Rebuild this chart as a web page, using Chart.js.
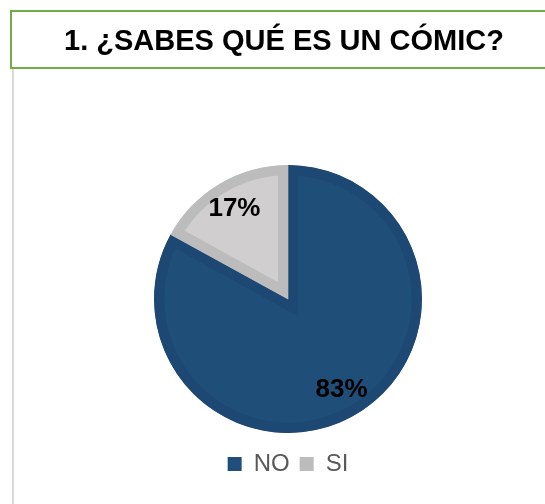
<!DOCTYPE html>
<html><head><meta charset="utf-8">
<script src="https://cdn.jsdelivr.net/npm/chart.js@4/dist/chart.umd.min.js"></script>
<style>
html,body{margin:0;padding:0;background:#fff;width:545px;height:504px;overflow:hidden;font-family:"Liberation Sans",Arial,sans-serif;}
#title{position:absolute;left:10px;top:10px;width:560px;height:55px;border:2px solid #70AD47;box-sizing:content-box;}
#title span{position:absolute;left:0;width:544px;top:0;line-height:57px;text-align:center;font-weight:bold;font-size:29px;color:#000;}
#vline{position:absolute;left:12px;top:69px;width:2px;height:435px;background:#D9D9D9;}
#wrap{position:absolute;left:0;top:0;width:545px;height:504px;}
</style></head>
<body>
<div id="wrap"><canvas id="c" width="545" height="504"></canvas></div>
<div id="title"><span>1. ¿SABES QUÉ ES UN CÓMIC?</span></div>
<div id="vline"></div>
<script>
const categories = ["NO", "SI"];
const values = [83, 17];
const valueLabels = ["83%", "17%"];
const fillColors = ["#1F4E79", "#D0CECE"];
const borderColors = ["#1C4873", "#BDBCBC"];

const labelPlugin = {
  id: 'sliceLabels',
  afterDatasetsDraw(chart) {
    const ctx = chart.ctx;
    const meta = chart.getDatasetMeta(0);
    ctx.save();
    ctx.font = 'bold 26px "Liberation Sans", Arial, sans-serif';
    ctx.fillStyle = '#000';
    ctx.textAlign = 'center';
    ctx.textBaseline = 'middle';
    meta.data.forEach((arc, i) => {
      const p = arc.getProps(['x','y','startAngle','endAngle','outerRadius'], true);
      const mid = (p.startAngle + p.endAngle) / 2;
      const r = p.outerRadius * 0.785;
      ctx.fillText(valueLabels[i], p.x + Math.cos(mid) * r, p.y + Math.sin(mid) * r);
    });
    ctx.restore();
  }
};

new Chart(document.getElementById('c'), {
  type: 'pie',
  data: {
    labels: categories,
    datasets: [{
      data: values,
      backgroundColor: fillColors,
      borderColor: borderColors,
      borderWidth: 10,
      borderAlign: 'inner',
      borderJoinStyle: 'miter'
    }]
  },
  options: {
    responsive: false,
    animation: false,
    radius: 134,
    layout: { padding: { left: 31, top: 156, bottom: 18, right: 0 } },
    plugins: {
      tooltip: { enabled: false },
      title: { display: false },
      legend: {
        display: true,
        position: 'bottom',
        labels: {
          boxWidth: 14,
          boxHeight: 14,
          padding: 10,
          color: '#595959',
          font: { size: 24, family: '"Liberation Sans", Arial, sans-serif' },
          generateLabels(chart) {
            return categories.map((c, i) => ({
              text: c,
              fillStyle: i === 0 ? fillColors[0] : borderColors[1],
              strokeStyle: i === 0 ? fillColors[0] : borderColors[1],
              lineWidth: 0,
              fontColor: '#595959',
              hidden: false,
              index: i
            }));
          }
        }
      }
    }
  },
  plugins: [labelPlugin]
});
</script>
</body></html>
